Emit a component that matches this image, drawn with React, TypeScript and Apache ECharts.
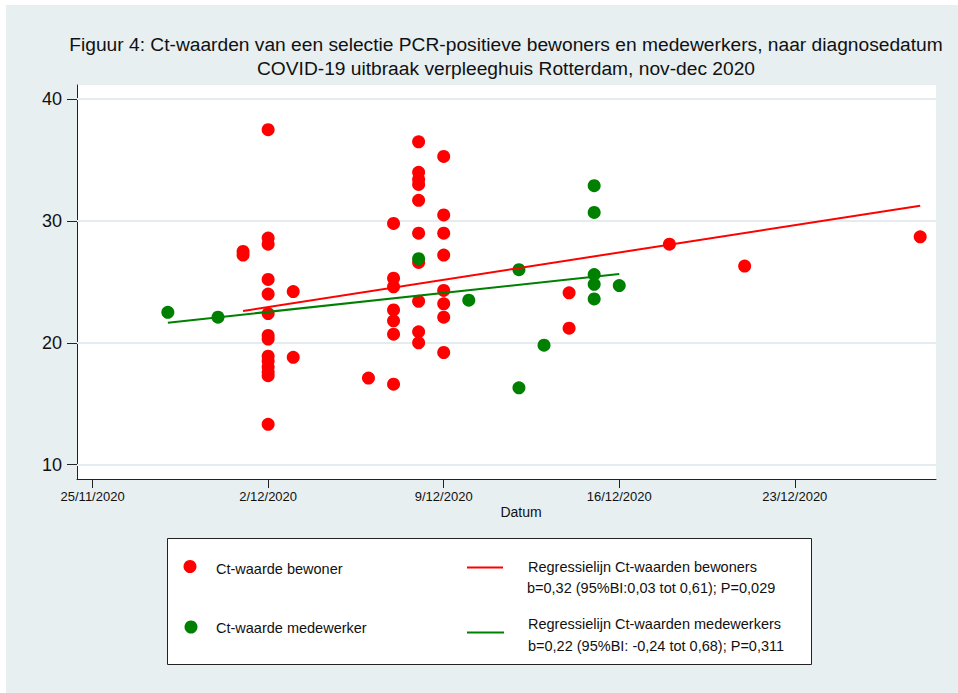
import React, { useEffect, useRef } from "react";
import * as echarts from "echarts";

// ---- data ----
const startDate = "2020-11-25";
const tickDates = ["2020-11-25", "2020-12-02", "2020-12-09", "2020-12-16", "2020-12-23"];
const tickLabels = ["25/11/2020", "2/12/2020", "9/12/2020", "16/12/2020", "23/12/2020"];
const yTicks = [10, 20, 30, 40];

const bewoners: [string, number][] = [
  ["2020-12-01", 27.5], ["2020-12-01", 27.2],
  ["2020-12-02", 37.5], ["2020-12-02", 28.6], ["2020-12-02", 28.1], ["2020-12-02", 25.2],
  ["2020-12-02", 24.0], ["2020-12-02", 22.4], ["2020-12-02", 20.6], ["2020-12-02", 20.3],
  ["2020-12-02", 18.9], ["2020-12-02", 18.5], ["2020-12-02", 18.0], ["2020-12-02", 17.6],
  ["2020-12-02", 17.3], ["2020-12-02", 13.3],
  ["2020-12-03", 24.2], ["2020-12-03", 18.8],
  ["2020-12-06", 17.1],
  ["2020-12-07", 29.8], ["2020-12-07", 25.3], ["2020-12-07", 24.6], ["2020-12-07", 22.7],
  ["2020-12-07", 21.8], ["2020-12-07", 20.7], ["2020-12-07", 16.6],
  ["2020-12-08", 36.5], ["2020-12-08", 34.0], ["2020-12-08", 33.4], ["2020-12-08", 33.0],
  ["2020-12-08", 31.7], ["2020-12-08", 29.0], ["2020-12-08", 26.6], ["2020-12-08", 23.4],
  ["2020-12-08", 20.9], ["2020-12-08", 20.0],
  ["2020-12-09", 35.3], ["2020-12-09", 30.5], ["2020-12-09", 29.0], ["2020-12-09", 27.2],
  ["2020-12-09", 24.3], ["2020-12-09", 23.2], ["2020-12-09", 22.1], ["2020-12-09", 19.2],
  ["2020-12-14", 24.1], ["2020-12-14", 21.2],
  ["2020-12-18", 28.1],
  ["2020-12-21", 26.3],
  ["2020-12-28", 28.7],
];

const medewerkers: [string, number][] = [
  ["2020-11-28", 22.5],
  ["2020-11-30", 22.1],
  ["2020-12-08", 26.9],
  ["2020-12-10", 23.5],
  ["2020-12-12", 26.0], ["2020-12-12", 16.3],
  ["2020-12-13", 19.8],
  ["2020-12-15", 32.9], ["2020-12-15", 30.7], ["2020-12-15", 25.6], ["2020-12-15", 24.8],
  ["2020-12-15", 23.6],
  ["2020-12-16", 24.7],
];

const regBewoners: [string, number][] = [["2020-12-01", 22.61], ["2020-12-28", 31.26]];
const regMedewerkers: [string, number][] = [["2020-11-28", 21.65], ["2020-12-16", 25.65]];

const titleLines = [
  "Figuur 4: Ct-waarden van een selectie PCR-positieve bewoners en medewerkers, naar diagnosedatum",
  "COVID-19 uitbraak verpleeghuis Rotterdam, nov-dec 2020",
];
const legendLabels = {
  bewoner: "Ct-waarde bewoner",
  medewerker: "Ct-waarde medewerker",
  regB1: "Regressielijn Ct-waarden bewoners",
  regB2: "b=0,32 (95%BI:0,03 tot 0,61); P=0,029",
  regM1: "Regressielijn Ct-waarden medewerkers",
  regM2: "b=0,22 (95%BI: -0,24 tot 0,68); P=0,311",
};
const xTitle = "Datum";

// ---- helpers ----
const dayMs = 86400000;
const toUTC = (s: string) => {
  const [y, m, d] = s.split("-").map(Number);
  return Date.UTC(y, m - 1, d);
};
const dayOf = (s: string) => Math.round((toUTC(s) - toUTC(startDate)) / dayMs);
const toPts = (arr: [string, number][]) => arr.map(([d, v]) => [dayOf(d), v]);
const tickDays = tickDates.map(dayOf);

const RED = "#ff0000";
const GREEN = "#008000";
const FONT = "'Liberation Sans', Arial, Helvetica, sans-serif";
const TXT = "#111";

export default function App() {
  const ref = useRef<HTMLDivElement>(null);
  useEffect(() => {
    if (!ref.current) return;
    const chart = echarts.init(ref.current, undefined, { renderer: "svg" });
    const option: any = {
      animation: false,
      backgroundColor: "transparent",
      textStyle: { fontFamily: FONT },
      grid: {
        left: 77, top: 85, width: 859, height: 394,
        show: true, backgroundColor: "#ffffff", borderWidth: 0,
      },
      xAxis: {
        type: "value",
        min: -0.622,
        max: 33.63,
        axisLine: { show: true, onZero: false, lineStyle: { color: "#222", width: 1 } },
        axisTick: { show: true, customValues: tickDays, length: 9, lineStyle: { color: "#222" } },
        axisLabel: {
          customValues: tickDays,
          margin: 11,
          fontSize: 13,
          color: TXT,
          fontFamily: FONT,
          formatter: (v: number) => {
            const i = tickDays.indexOf(Math.round(v));
            return i >= 0 ? tickLabels[i] : "";
          },
        },
        splitLine: { show: false },
      },
      yAxis: {
        type: "value",
        min: 8.81,
        max: 41.17,
        axisLine: { show: true, onZero: false, lineStyle: { color: "#222", width: 1 } },
        axisTick: { show: true, customValues: yTicks, length: 10, lineStyle: { color: "#222" } },
        axisLabel: {
          customValues: yTicks,
          margin: 15,
          fontSize: 18,
          color: TXT,
          fontFamily: FONT,
        },
        splitLine: { show: false },
      },
      series: [
        {
          type: "line",
          data: [],
          z: 1,
          silent: true,
          markLine: {
            z: 1,
            silent: true,
            symbol: ["none", "none"],
            label: { show: false },
            lineStyle: { color: "#e4ecef", width: 2, type: "solid" },
            data: yTicks.map((v) => ({ yAxis: v })),
          },
        },
        {
          name: legendLabels.bewoner,
          type: "scatter",
          symbol: "circle",
          symbolSize: 13,
          z: 2,
          itemStyle: { color: RED, opacity: 1 },
          data: toPts(bewoners),
        },
        {
          name: legendLabels.medewerker,
          type: "scatter",
          symbol: "circle",
          symbolSize: 13,
          z: 2,
          itemStyle: { color: GREEN, opacity: 1 },
          data: toPts(medewerkers),
        },
        {
          name: legendLabels.regB1,
          type: "line",
          showSymbol: false,
          z: 3,
          lineStyle: { color: RED, width: 2 },
          itemStyle: { color: RED },
          data: toPts(regBewoners),
        },
        {
          name: legendLabels.regM1,
          type: "line",
          showSymbol: false,
          z: 3,
          lineStyle: { color: GREEN, width: 2 },
          itemStyle: { color: GREEN },
          data: toPts(regMedewerkers),
        },
      ],
      graphic: [
        {
          type: "text", x: 506, y: 44,
          style: { text: titleLines[0], font: `19.2px ${FONT}`, fill: TXT, align: "center", verticalAlign: "middle" },
        },
        {
          type: "text", x: 506, y: 68,
          style: { text: titleLines[1], font: `19.2px ${FONT}`, fill: TXT, align: "center", verticalAlign: "middle" },
        },
        {
          type: "text", x: 521, y: 512,
          style: { text: xTitle, font: `14px ${FONT}`, fill: TXT, align: "center", verticalAlign: "middle" },
        },
        {
          type: "rect",
          shape: { x: 167.5, y: 538.5, width: 644, height: 126 },
          style: { fill: "#ffffff", stroke: "#222", lineWidth: 1 },
        },
        { type: "circle", shape: { cx: 190, cy: 566.5, r: 6.5 }, style: { fill: RED } },
        { type: "circle", shape: { cx: 191, cy: 627, r: 6.5 }, style: { fill: GREEN } },
        {
          type: "text", x: 216, y: 569,
          style: { text: legendLabels.bewoner, font: `14.5px ${FONT}`, fill: TXT, verticalAlign: "middle" },
        },
        {
          type: "text", x: 216, y: 627.5,
          style: { text: legendLabels.medewerker, font: `14.5px ${FONT}`, fill: TXT, verticalAlign: "middle" },
        },
        { type: "line", shape: { x1: 467, y1: 567.5, x2: 503, y2: 567.5 }, style: { stroke: RED, lineWidth: 2 } },
        { type: "line", shape: { x1: 467, y1: 632.5, x2: 504, y2: 632.5 }, style: { stroke: GREEN, lineWidth: 2 } },
        {
          type: "text", x: 528, y: 567,
          style: { text: legendLabels.regB1, font: `14.5px ${FONT}`, fill: TXT, verticalAlign: "middle" },
        },
        {
          type: "text", x: 527, y: 588,
          style: { text: legendLabels.regB2, font: `14.5px ${FONT}`, fill: TXT, verticalAlign: "middle" },
        },
        {
          type: "text", x: 528, y: 623.5,
          style: { text: legendLabels.regM1, font: `14.5px ${FONT}`, fill: TXT, verticalAlign: "middle" },
        },
        {
          type: "text", x: 528, y: 645.5,
          style: { text: legendLabels.regM2, font: `14.5px ${FONT}`, fill: TXT, verticalAlign: "middle" },
        },
      ],
    };
    chart.setOption(option);
    return () => chart.dispose();
  }, []);

  return (
    <div style={{ position: "absolute", left: 0, top: 0, width: 958, height: 693, background: "#ffffff" }}>
      <div style={{ position: "absolute", left: 6, top: 5, width: 952, height: 688, background: "#e7eff1" }} />
      <div ref={ref} style={{ position: "absolute", left: 0, top: 0, width: 958, height: 693 }} />
    </div>
  );
}
